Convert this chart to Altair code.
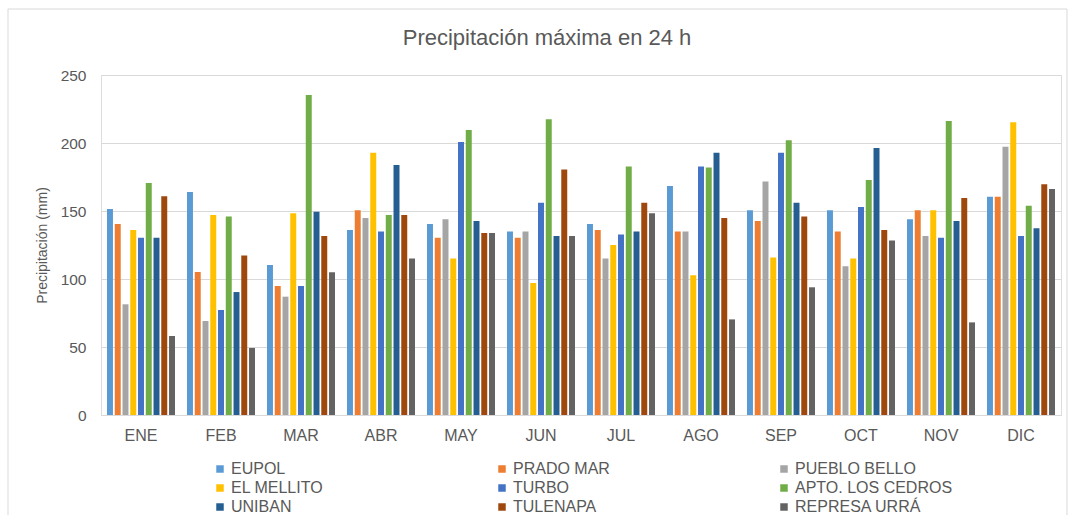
import altair as alt
import pandas as pd

months = ["ENE", "FEB", "MAR", "ABR", "MAY", "JUN", "JUL", "AGO", "SEP", "OCT", "NOV", "DIC"]
stations = ["EUPOL", "PRADO MAR", "PUEBLO BELLO", "EL MELLITO", "TURBO",
            "APTO. LOS CEDROS", "UNIBAN", "TULENAPA", "REPRESA URRÁ"]
colors = ["#5B9BD5", "#ED7D31", "#A5A5A5", "#FFC000", "#4472C4",
          "#70AD47", "#255E91", "#9E480E", "#636363"]

eupol = [151.5, 164, 110.3, 136, 140.4, 135, 140.4, 168.4, 150.5, 150.5, 143.9, 160.5]
prado_mar = [140.4, 105.1, 94.9, 150.5, 130.4, 130.4, 136, 135, 142.6, 135, 150.5, 160.5]
pueblo_bello = [81.4, 69.1, 87, 144.9, 143.9, 135, 115, 135, 171.6, 109.3, 131.6, 197.3]
el_mellito = [136, 147, 148.3, 192.9, 115, 97, 125, 102.7, 115.9, 115, 150.5, 215.2]
turbo = [130.4, 77.2, 94.9, 135, 200.7, 156.1, 132.8, 182.8, 192.9, 152.9, 130.4, 131.6]
apto_cedros = [170.6, 146, 235.3, 147, 209.6, 217.4, 182.8, 181.9, 202, 172.8, 216.2, 153.9]
uniban = [130.4, 90.4, 149.5, 183.8, 142.6, 131.6, 135, 192.9, 156.1, 196.3, 142.6, 137.3]
tulenapa = [160.8, 117.2, 131.6, 147, 133.8, 180.6, 156.1, 144.9, 146, 136, 159.6, 169.6]
represa_urra = [58.1, 49.3, 104.9, 115, 133.8, 131.6, 148.3, 70.3, 93.9, 128.4, 68.1, 166.2]

series = [eupol, prado_mar, pueblo_bello, el_mellito, turbo,
          apto_cedros, uniban, tulenapa, represa_urra]

title_text = "Precipitación máxima en 24 h"

rows = []
for name, vals in zip(stations, series):
    for m, v in zip(months, vals):
        rows.append({"mes": m, "estacion": name, "valor": v})
df = pd.DataFrame(rows)

FONT = "Liberation Sans"
GRAY = "#595959"

bars = alt.Chart(df).mark_bar().encode(
    x=alt.X("mes:N", sort=months, title=None,
            scale=alt.Scale(paddingInner=0.15, paddingOuter=0.075),
            axis=alt.Axis(labelAngle=0, labelFontSize=16, labelColor=GRAY,
                          labelFont=FONT, labelPadding=12, ticks=False,
                          domainColor="#D9D9D9", domainWidth=1)),
    xOffset=alt.XOffset("estacion:N", sort=stations,
                        scale=alt.Scale(paddingInner=0.23)),
    y=alt.Y("valor:Q", title="Precipitación (mm)",
            scale=alt.Scale(domain=[0, 250], nice=False),
            axis=alt.Axis(values=[0, 50, 100, 150, 200, 250], labelFontSize=15.5,
                          labelColor=GRAY, labelFont=FONT, labelPadding=15,
                          ticks=False, domain=False, gridColor="#D9D9D9",
                          titleFont=FONT, titleFontSize=14, titleColor=GRAY,
                          titleFontWeight="normal", titlePadding=11)),
    color=alt.Color("estacion:N", sort=stations,
                    scale=alt.Scale(domain=stations, range=colors),
                    legend=alt.Legend(title=None, orient="none", legendX=111,
                                      legendY=386, columns=3, direction="horizontal",
                                      columnPadding=105, rowPadding=3,
                                      gridAlign="all",
                                      symbolType="square",
                                      symbolSize=56, symbolStrokeWidth=0,
                                      labelFont=FONT, labelFontSize=16,
                                      labelColor=GRAY, labelOffset=3,
                                      labelLimit=300)),
)

# outer frame around the whole figure
border = alt.Chart(pd.DataFrame({"k": [0]})).mark_rect(
    fill=None, stroke="#D9D9D9", strokeWidth=1, clip=False
).encode(x=alt.value(-93), x2=alt.value(966), y=alt.value(-66), y2=alt.value(441))

title = alt.Chart(pd.DataFrame({"t": [title_text]})).mark_text(
    font=FONT, fontSize=22, color=GRAY, align="center", baseline="alphabetic",
    clip=False
).encode(text="t:N", x=alt.value(446), y=alt.value(-30))

chart = alt.layer(border, bars, title).properties(
    width=960, height=340,
    padding={"left": 101, "top": 75, "right": 7, "bottom": 100},
    autosize=alt.AutoSizeParams(type="none"),
).configure_view(stroke=None).configure(background="white")

chart.save("out.html", embed_options={"renderer": "svg", "actions": False})
